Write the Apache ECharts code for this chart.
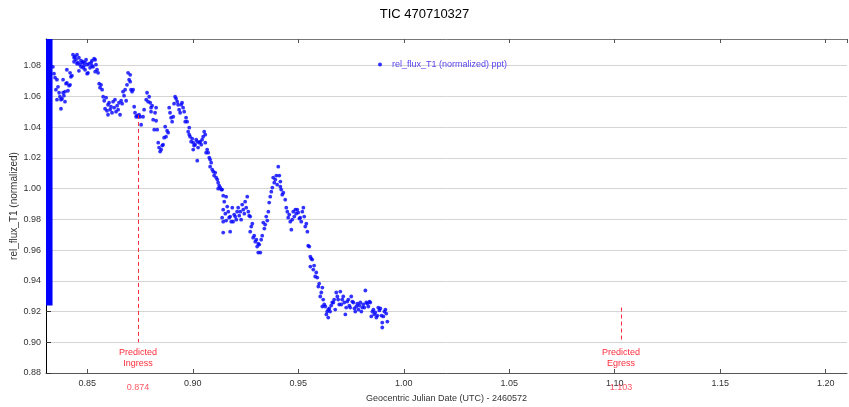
<!DOCTYPE html>
<html>
<head>
<meta charset="utf-8">
<title>TIC 470710327</title>
<script src="https://cdn.jsdelivr.net/npm/echarts@6/dist/echarts.min.js"></script>
<style>
  html, body { margin: 0; padding: 0; background: #fff; }
  #chart { width: 849px; height: 407px; }
</style>
</head>
<body>
<div id="chart"></div>
<script>
// light curve: [JD - 2460572, rel_flux_T1]
var fluxPoints = [
  [0.8337,1.0793],[0.8342,1.0748],[0.8347,1.0722],[0.8351,1.0644],[0.8356,1.0709],[0.8356,1.0579],
  [0.8361,1.0663],[0.8366,1.0624],[0.8370,1.0598],[0.8375,1.0579],[0.8375,1.0520],[0.8380,1.0585],
  [0.8385,1.0624],[0.8385,1.0709],[0.8389,1.0605],[0.8394,1.0566],[0.8394,1.0631],[0.8399,1.0683],
  [0.8403,1.0689],[0.8403,1.0774],[0.8408,1.0637],[0.8413,1.0670],[0.8418,1.0676],[0.8418,1.0754],
  [0.8422,1.0728],[0.8427,1.0735],
  [0.8432,1.0872],[0.8437,1.0852],[0.8437,1.0826],[0.8442,1.0859],[0.8446,1.0839],[0.8451,1.0872],
  [0.8451,1.0813],[0.8456,1.0820],[0.8460,1.0852],[0.8460,1.0767],[0.8465,1.0807],[0.8470,1.0793],
  [0.8470,1.0833],[0.8475,1.0820],[0.8480,1.0826],[0.8480,1.0787],[0.8484,1.0800],[0.8489,1.0820],
  [0.8489,1.0774],[0.8494,1.0839],[0.8499,1.0807],[0.8499,1.0748],[0.8503,1.0754],[0.8508,1.0813],
  [0.8513,1.0787],[0.8518,1.0820],[0.8522,1.0800],[0.8522,1.0833],[0.8527,1.0793],[0.8532,1.0846],
  [0.8537,1.0839],[0.8537,1.0761],[0.8541,1.0807],[0.8546,1.0774],[0.8551,1.0754],
  [0.8556,1.0683],[0.8560,1.0657],[0.8565,1.0676],[0.8570,1.0644],[0.8575,1.0598],[0.8580,1.0572],
  [0.8584,1.0520],[0.8589,1.0592],[0.8593,1.0507],[0.8598,1.0546],[0.8598,1.0481],[0.8603,1.0559],
  [0.8608,1.0514],[0.8612,1.0533],[0.8617,1.0494],[0.8622,1.0566],[0.8627,1.0527],[0.8631,1.0579],
  [0.8636,1.0501],[0.8641,1.0540],[0.8646,1.0514],[0.8650,1.0559],[0.8655,1.0481],[0.8660,1.0572],
  [0.8665,1.0553],[0.8669,1.0631],[0.8674,1.0605],[0.8679,1.0644],[0.8684,1.0572],[0.8688,1.0676],
  [0.8693,1.0754],[0.8698,1.0709],[0.8703,1.0741],[0.8703,1.0696],[0.8707,1.0644],[0.8712,1.0631],
  [0.8717,1.0644],[0.8722,1.0533],[0.8726,1.0494],[0.8731,1.0468],[0.8736,1.0475],[0.8741,1.0468],
  [0.8745,1.0481],[0.8750,1.0468],[0.8755,1.0416],
  [0.8764,1.0468],[0.8769,1.0514],[0.8779,1.0579],[0.8783,1.0624],[0.8788,1.0566],[0.8793,1.0598],
  [0.8798,1.0559],[0.8802,1.0527],[0.8802,1.0501],[0.8807,1.0540],[0.8812,1.0449],[0.8817,1.0384],
  [0.8821,1.0494],[0.8826,1.0442],[0.8826,1.0527],[0.8831,1.0384],[0.8836,1.0299],[0.8840,1.0267],
  [0.8845,1.0241],[0.8850,1.0254],[0.8855,1.0280],[0.8859,1.0286],[0.8864,1.0332],[0.8869,1.0403],
  [0.8873,1.0338],[0.8878,1.0377],[0.8883,1.0364],[0.8888,1.0527],[0.8892,1.0494],[0.8897,1.0462],
  [0.8902,1.0436],[0.8907,1.0468],[0.8911,1.0553],[0.8916,1.0598],[0.8921,1.0585],[0.8926,1.0566],
  [0.8930,1.0546],[0.8935,1.0514],[0.8940,1.0494],[0.8945,1.0546],[0.8949,1.0559],[0.8954,1.0527],
  [0.8959,1.0501],[0.8964,1.0436],[0.8968,1.0462],[0.8973,1.0436],[0.8978,1.0371],[0.8983,1.0397],
  [0.8983,1.0351],[0.8987,1.0338],[0.8992,1.0306],[0.8997,1.0325],[0.9002,1.0299],[0.9002,1.0254],
  [0.9006,1.0280],[0.9011,1.0286],[0.9016,1.0319],[0.9021,1.0182],[0.9021,1.0306],[0.9025,1.0267],
  [0.9030,1.0299],[0.9035,1.0306],[0.9040,1.0286],[0.9044,1.0319],[0.9049,1.0338],[0.9054,1.0371],
  [0.9059,1.0351],[0.9059,1.0299],[0.9063,1.0234],[0.9068,1.0254],[0.9073,1.0234],[0.9078,1.0202],
  [0.9082,1.0189],[0.9082,1.0143],[0.9087,1.0169],[0.9092,1.0124],[0.9097,1.0111],[0.9101,1.0085],
  [0.9106,1.0104],[0.9111,1.0072],[0.9116,1.0059],[0.9120,1.0039],[0.9120,1.0000],[0.9125,1.0020],
  [0.9130,1.0007],[0.9135,0.9994],[0.9139,0.9994],
  [0.9144,0.9954],[0.9149,0.9915],[0.9158,0.9948],[0.9144,0.9863],[0.9139,0.9811],[0.9144,0.9785],
  [0.9154,0.9837],[0.9144,0.9714],[0.9158,0.9792],[0.9163,0.9883],[0.9168,0.9850],[0.9172,0.9811],
  [0.9177,0.9818],[0.9177,0.9720],[0.9182,0.9785],[0.9187,0.9876],[0.9191,0.9785],[0.9196,0.9831],
  [0.9201,0.9818],[0.9206,0.9798],[0.9210,0.9850],[0.9215,0.9876],[0.9220,0.9824],[0.9225,0.9850],
  [0.9229,0.9798],[0.9234,0.9896],[0.9239,0.9863],[0.9244,0.9837],[0.9248,0.9915],[0.9253,0.9876],
  [0.9258,0.9948],[0.9263,0.9850],[0.9267,0.9824],[0.9272,0.9818],[0.9277,0.9753],[0.9272,0.9720],
  [0.9282,0.9772],[0.9286,0.9681],[0.9291,0.9694],[0.9296,0.9655],[0.9301,0.9668],[0.9305,0.9623],
  [0.9310,0.9584],[0.9310,0.9642],[0.9315,0.9636],[0.9320,0.9584],[0.9324,0.9668],[0.9329,0.9694],
  [0.9334,0.9779],[0.9339,0.9740],[0.9343,0.9766],[0.9348,0.9818],[0.9353,0.9792],[0.9358,0.9850],
  [0.9362,0.9909],[0.9367,0.9948],[0.9372,0.9980],[0.9377,1.0007],[0.9381,1.0072],[0.9386,1.0039],
  [0.9391,1.0059],[0.9396,1.0085],[0.9400,1.0026],[0.9405,1.0143],[0.9410,1.0085],[0.9415,1.0046],
  [0.9415,1.0013],[0.9419,0.9994],[0.9424,0.9961],[0.9429,0.9974],[0.9438,0.9928],[0.9443,0.9876],
  [0.9448,0.9850],[0.9452,0.9811],[0.9457,0.9831],[0.9462,0.9785],[0.9467,0.9733],[0.9471,0.9798],
  [0.9476,0.9850],[0.9481,0.9818],[0.9486,0.9863],[0.9490,0.9837],[0.9495,0.9863],[0.9500,0.9844],
  [0.9505,0.9805],[0.9509,0.9811],[0.9514,0.9785],[0.9519,0.9850],[0.9524,0.9876],[0.9528,0.9818],
  [0.9533,0.9753],[0.9538,0.9772],[0.9543,0.9720],
  [0.9547,0.9629],[0.9552,0.9623],[0.9557,0.9558],[0.9561,0.9545],[0.9566,0.9538],[0.9557,0.9493],
  [0.9571,0.9473],[0.9575,0.9499],[0.9580,0.9428],[0.9585,0.9454],[0.9590,0.9421],[0.9595,0.9363],
  [0.9599,0.9382],[0.9604,0.9298],[0.9609,0.9324],[0.9614,0.9356],[0.9614,0.9233],
  [0.9618,0.9278],[0.9623,0.9246],[0.9628,0.9233],[0.9633,0.9181],[0.9637,0.9200],[0.9642,0.9213],
  [0.9642,0.9161],[0.9647,0.9220],[0.9651,0.9200],[0.9656,0.9239],[0.9661,0.9259],[0.9666,0.9259],
  [0.9670,0.9278],[0.9675,0.9213],[0.9680,0.9324],[0.9685,0.9298],[0.9689,0.9278],[0.9694,0.9246],
  [0.9699,0.9330],[0.9704,0.9246],[0.9708,0.9278],[0.9713,0.9298],[0.9718,0.9259],[0.9723,0.9181],
  [0.9727,0.9226],[0.9732,0.9265],[0.9737,0.9278],[0.9742,0.9239],[0.9746,0.9226],[0.9751,0.9298],
  [0.9756,0.9265],[0.9761,0.9259],[0.9766,0.9220],[0.9770,0.9200],[0.9775,0.9233],[0.9780,0.9252],
  [0.9785,0.9213],[0.9789,0.9239],[0.9794,0.9259],[0.9799,0.9200],[0.9803,0.9226],[0.9808,0.9246],
  [0.9813,0.9226],[0.9818,0.9337],[0.9822,0.9259],[0.9827,0.9252],[0.9832,0.9233],[0.9837,0.9265],
  [0.9841,0.9259],[0.9846,0.9168],[0.9851,0.9200],[0.9856,0.9213],[0.9860,0.9181],[0.9865,0.9194],
  [0.9870,0.9161],[0.9875,0.9174],[0.9879,0.9226],[0.9884,0.9207],[0.9889,0.9220],[0.9894,0.9174],
  [0.9898,0.9128],[0.9903,0.9168],[0.9908,0.9200],[0.9913,0.9213],[0.9917,0.9187],[0.9922,0.9135],
  [0.9898,0.9096]
];

// points piled up against the left edge of the plot
var edgeBand = { x0: 0.8304, x1: 0.8335, yLow: 0.924 };

var ingressTime = 0.874;
var egressTime = 1.103;
var ingressTop = 1.048;
var egressTop = 0.9226;
var markBottom = 0.90;

var xMin = 0.8304, xMax = 1.2101;
var yMin = 0.88, yMax = 1.0974;

var seriesName = 'rel_flux_T1 (normalized) ppt)';

var chart = echarts.init(document.getElementById('chart'));
var red = '#ff2d3c';
var font = '"Liberation Sans", Arial, sans-serif';

var option = {
  animation: false,
  textStyle: { fontFamily: font },
  title: {
    text: 'TIC 470710327',
    left: 'center',
    top: 3,
    textStyle: { fontSize: 13, fontWeight: 'normal', color: '#000', fontFamily: font }
  },
  legend: {
    data: [seriesName],
    left: 373,
    top: 55,
    icon: 'circle',
    itemWidth: 14,
    itemHeight: 4,
    textStyle: { fontSize: 9, color: '#5b45f0', fontFamily: font }
  },
  grid: { left: 46, right: 2, top: 39, bottom: 34, outerBoundsMode: 'none', containLabel: false },
  xAxis: [
    {
      type: 'value',
      min: xMin,
      max: xMax,
      minInterval: 0.05,
      maxInterval: 0.05,
      name: 'Geocentric Julian Date (UTC) - 2460572',
      nameLocation: 'middle',
      nameGap: 21,
      nameMoveOverlap: false,
      nameTextStyle: { fontSize: 9, color: '#333' },
      axisLine: { lineStyle: { color: '#555' } },
      axisTick: { inside: true, length: 4, lineStyle: { color: '#555' } },
      axisLabel: {
        fontSize: 9, color: '#333', margin: 6,
        showMinLabel: false, showMaxLabel: false,
        formatter: function (v) { return v.toFixed(2); }
      },
      splitLine: { show: false }
    },
    {
      type: 'value',
      position: 'top',
      min: xMin,
      max: xMax,
      minInterval: 0.05,
      maxInterval: 0.05,
      axisLine: { lineStyle: { color: '#777' } },
      axisTick: { inside: true, length: 4, lineStyle: { color: '#555' } },
      axisLabel: { show: false },
      splitLine: { show: false }
    }
  ],
  yAxis: {
    type: 'value',
    min: yMin,
    max: yMax,
    interval: 0.02,
    name: 'rel_flux_T1 (normalized)',
    nameLocation: 'middle',
    nameGap: 27,
    nameMoveOverlap: false,
    nameTextStyle: { fontSize: 10, color: '#333' },
    axisLine: { lineStyle: { color: '#000' } },
    axisTick: { inside: true, length: 5, lineStyle: { color: '#333' } },
    axisLabel: {
      fontSize: 9, color: '#333', margin: 5,
      showMaxLabel: false,
      formatter: function (v) { return v.toFixed(2); }
    },
    splitLine: { lineStyle: { color: '#d4d4d4' } }
  },
  series: [
    {
      name: seriesName,
      type: 'scatter',
      data: fluxPoints,
      symbol: 'circle',
      symbolSize: 3.8,
      itemStyle: { color: '#0000ff' },
      markArea: {
        silent: true,
        itemStyle: { color: '#0000ff', opacity: 1 },
        data: [[
          { coord: [edgeBand.x0, edgeBand.yLow] },
          { coord: [edgeBand.x1, yMax] }
        ]]
      },
      markLine: {
        silent: true,
        symbol: 'none',
        lineStyle: { color: red, type: [4, 3], width: 1 },
        label: {
          position: 'end', color: red, fontSize: 9, lineHeight: 11,
          formatter: function (p) { return p.name; }
        },
        data: [
          [{ name: 'Predicted\nIngress', coord: [ingressTime, ingressTop] }, { coord: [ingressTime, markBottom] }],
          [{ name: 'Predicted\nEgress', coord: [egressTime, egressTop] }, { coord: [egressTime, markBottom] }]
        ]
      }
    },
    {
      name: 'transit times',
      type: 'scatter',
      data: [[ingressTime, yMin], [egressTime, yMin]],
      symbolSize: 1,
      clip: false,
      silent: true,
      itemStyle: { color: 'rgba(0,0,0,0)' },
      label: {
        show: true, position: 'bottom', distance: 10,
        color: red, fontSize: 9,
        formatter: function (p) { return p.value[0].toFixed(3); }
      }
    }
  ]
};

chart.setOption(option);
</script>
</body>
</html>
